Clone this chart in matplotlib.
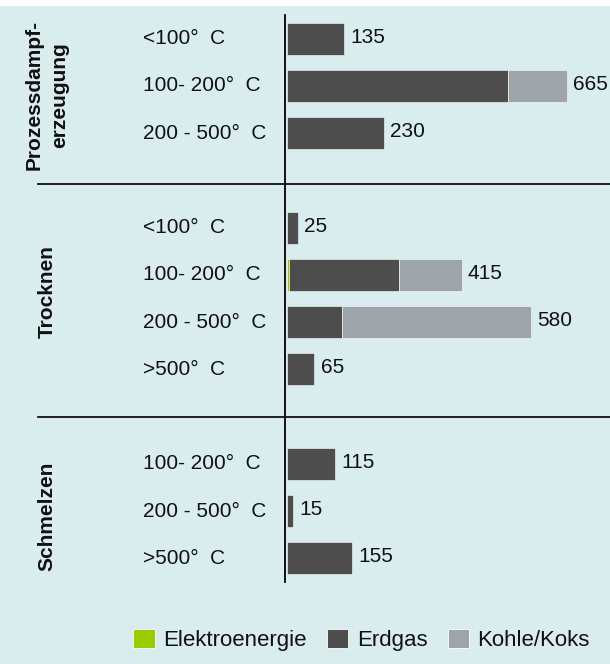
import matplotlib
matplotlib.use("Agg")
import matplotlib.pyplot as plt
import matplotlib.transforms as mtrans
from matplotlib.patches import Rectangle, Patch

plt.rcParams["font.family"] = ["Liberation Sans", "DejaVu Sans"]

# Data: energy use by process and temperature range
groups = ["Prozessdampf-\nerzeugung", "Trocknen", "Schmelzen"]
group_sizes = [3, 4, 3]
categories = ["<100°  C", "100- 200°  C", "200 - 500°  C",
              "<100°  C", "100- 200°  C", "200 - 500°  C", ">500°  C",
              "100- 200°  C", "200 - 500°  C", ">500°  C"]
elektro = [0, 0, 0, 0, 5, 0, 0, 0, 0, 0]
erdgas = [135, 525, 230, 25, 260, 130, 65, 115, 15, 155]
kohle = [0, 140, 0, 0, 150, 450, 0, 0, 0, 0]
series_names = ["Elektroenergie", "Erdgas", "Kohle/Koks"]

# Styling
BG = "#d9ecee"
COLORS = ["#99cc00", "#4d4d4d", "#9da4aa"]
TXT = "#111111"
FS = 15

W, H = 610, 664
X0 = 287  # pixel where bars start
fig = plt.figure(figsize=(W / 100, H / 100), dpi=100)
fig.patch.set_facecolor("white")
fig.patches.append(Rectangle((0, 0), 1, 1 - 6 / H, transform=fig.transFigure,
                             facecolor=BG, edgecolor="none", zorder=-10))

ax = fig.add_axes([X0 / W, 1 - 582 / H, 1 - X0 / W, 567 / H])
ax.patch.set_visible(False)
ax.set_xlim(0, (W - X0) / 0.421)

# slot positions: groups separated by one empty slot
positions = []
start = 0
for n in group_sizes:
    positions.extend(range(start, start + n))
    start += n + 1
ax.set_ylim(positions[-1] + 0.5, -0.5)

BAR_H = 0.68
left = [0] * len(positions)
for vals, col in zip([elektro, erdgas, kohle], COLORS):
    for p, v, l in zip(positions, vals, left):
        if v > 0:
            ax.barh(p, v, left=l, height=BAR_H, color=col,
                    edgecolor="white", linewidth=0.4, zorder=2)
    left = [a + b for a, b in zip(left, vals)]

totals = left
for p, t in zip(positions, totals):
    ax.annotate(f"{t}", (t, p), xytext=(4.5, 1), textcoords="offset points",
                ha="left", va="center", fontsize=FS, color=TXT)

for s in ["top", "right", "bottom"]:
    ax.spines[s].set_visible(False)
ax.spines["left"].set_linewidth(1.3)
ax.spines["left"].set_position(("outward", 1.2))
ax.spines["left"].set_zorder(1.5)
ax.set_xticks([])
ax.set_yticks([])

blend = mtrans.blended_transform_factory(fig.transFigure, ax.transData)

# category labels
for p, c in zip(positions, categories):
    ax.text(143 / W, p, c, transform=blend, ha="left", va="center",
            fontsize=FS, color=TXT)

# group labels and separators
group_centers = [1.2, 5.35, 10.1]
for g, yc in zip(groups, group_centers):
    ax.text(47 / W, yc, g, transform=blend, rotation=90, ha="center",
            va="center", fontsize=FS, fontweight="bold", color=TXT,
            multialignment="center", linespacing=1.45)

for ys in [3.08, 8.0]:
    ax.plot([38 / W, 1], [ys, ys], transform=blend, color=TXT,
            linewidth=1.3, clip_on=False, zorder=3)

handles = [Patch(facecolor=c, edgecolor="white", linewidth=0.6, label=n)
           for c, n in zip(COLORS, series_names)]
fig.legend(handles=handles, loc="center", bbox_to_anchor=(0.593, 0.036),
           ncol=3, frameon=False, fontsize=16, handlelength=0.95,
           handleheight=0.95, handletextpad=0.4, columnspacing=0.9,
           borderpad=0, labelcolor=TXT)

fig.savefig("out.png", dpi=100, facecolor=fig.get_facecolor())
